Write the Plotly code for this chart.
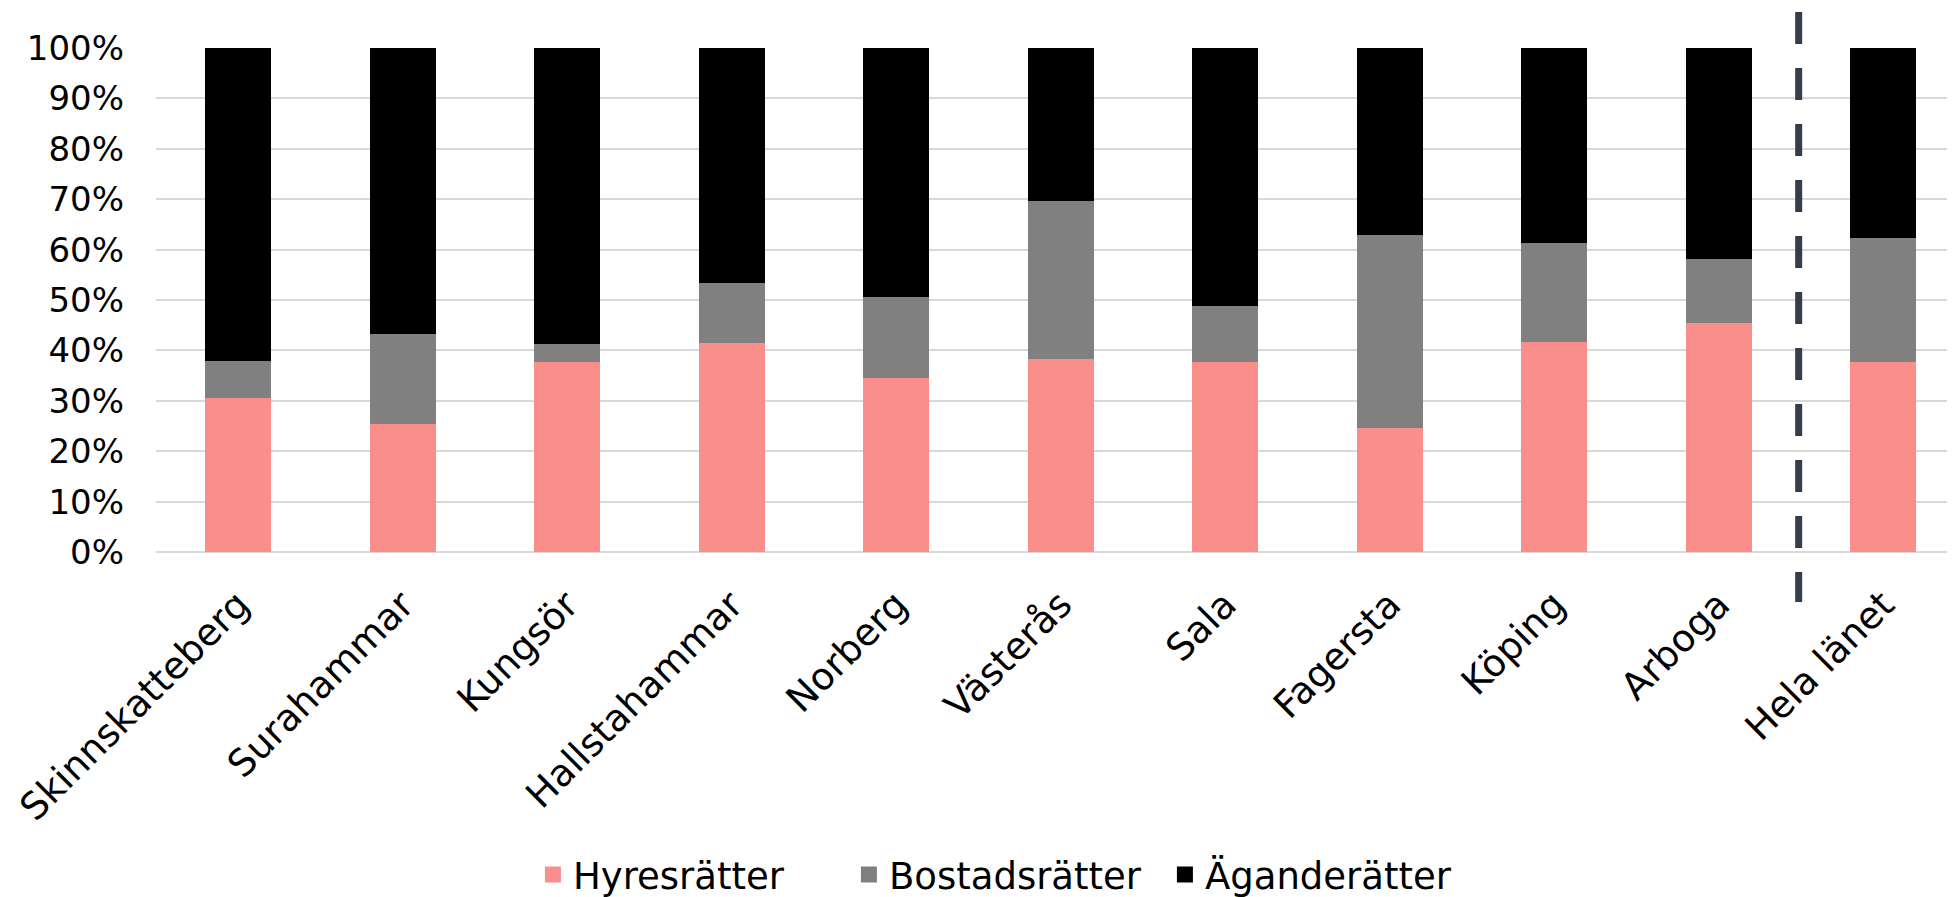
import plotly.graph_objects as go

categories = ["Skinnskatteberg", "Surahammar", "Kungsör", "Hallstahammar", "Norberg",
              "Västerås", "Sala", "Fagersta", "Köping", "Arboga", "Hela länet"]
hyresratter = [30.5, 25.4, 37.7, 41.4, 34.5, 38.3, 37.7, 24.6, 41.7, 45.4, 37.7]
bostadsratter = [7.3, 17.8, 3.6, 12.0, 16.0, 31.3, 11.1, 38.2, 19.6, 12.7, 24.6]
aganderatter = [62.2, 56.8, 58.7, 46.6, 49.5, 30.4, 51.2, 37.2, 38.7, 41.9, 37.7]
series_names = ["Hyresrätter", "Bostadsrätter", "Äganderätter"]
series_colors = ["#F98E8A", "#808080", "#000000"]
y_tickvals = [0, 10, 20, 30, 40, 50, 60, 70, 80, 90, 100]
y_ticktext = ["0%", "10%", "20%", "30%", "40%", "50%", "60%", "70%", "80%", "90%", "100%"]

FONT = "DejaVu Sans"

fig = go.Figure()
for name, vals, col in zip(series_names, [hyresratter, bostadsratter, aganderatter], series_colors):
    fig.add_trace(go.Bar(x=categories, y=vals, name=name, showlegend=False,
                         marker=dict(color=col, line=dict(width=0))))
# legend entries with larger square swatches
for name, col in zip(series_names, series_colors):
    fig.add_trace(go.Scatter(x=[None], y=[None], mode="markers", name=name, showlegend=True,
                             marker=dict(symbol="square", size=16, color=col)))

# dashed separator between Arboga and Hela länet
fig.add_shape(type="line", xref="x", yref="paper",
              x0=9.486, x1=9.486, y0=(552 - 12) / 504, y1=(552 - 602) / 504,
              line=dict(color="#343D4A", width=7, dash="32px,24px"))

fig.update_layout(
    width=1955, height=897,
    barmode="stack", bargap=0.6,
    plot_bgcolor="white", paper_bgcolor="white",
    margin=dict(l=148, r=0, t=40, b=353, autoexpand=False),
    font=dict(family=FONT, size=35, color="#000000"),
    legend=dict(orientation="h", xref="container", yref="container",
                x=0.2685, xanchor="left", y=0.0335, yanchor="middle",
                font=dict(size=37), itemwidth=30, traceorder="normal",
                entrywidth=271, entrywidthmode="pixels", itemsizing="trace"),
    showlegend=True,
)
fig.update_xaxes(type="category", range=[-0.5, 10.485], tickangle=-45, automargin=False,
                 showgrid=False, showline=False, ticks="", ticklabelstandoff=22,
                 tickfont=dict(size=37.5))
fig.update_yaxes(range=[0, 100], tickvals=y_tickvals, ticktext=y_ticktext, automargin=False,
                 showgrid=True, gridcolor="#D9D9D9", gridwidth=2,
                 zeroline=True, zerolinecolor="#D9D9D9", zerolinewidth=2,
                 showline=False, ticks="", ticklabelstandoff=31, tickfont=dict(size=34))

fig.write_html("out.html")
